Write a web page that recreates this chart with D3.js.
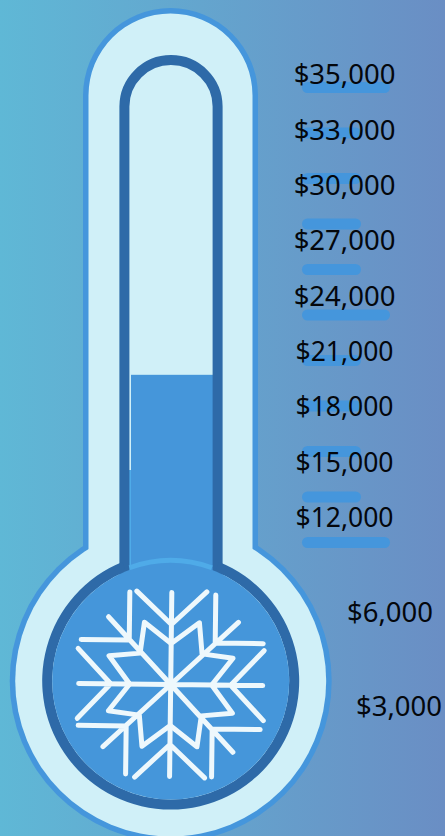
<!DOCTYPE html>
<html>
<head>
<meta charset="utf-8">
<script src="https://cdn.jsdelivr.net/npm/d3@7"></script>
<style>
  html, body { margin: 0; padding: 0; overflow: hidden; }
  svg { display: block; }
</style>
</head>
<body>
<div id="chart"></div>
<script>
// Goal levels, lowest first
const tickValues = [3000, 6000, 12000, 15000, 18000, 21000, 24000, 27000, 30000, 33000, 35000];
const tickLabels = ["$3,000", "$6,000", "$12,000", "$15,000", "$18,000", "$21,000", "$24,000", "$27,000", "$30,000", "$33,000", "$35,000"];
const raisedValue = 19700;
// Gauge marks, top to bottom (long ones are every fifth)
const gaugeMarks = ["long", "short", "short", "short", "short", "long", "short", "short", "short", "short", "long"];

const width = 445, height = 836;
const cx = 170.7, bulbY = 681;

const colors = {
  border: "#4596dc",
  glass: "#d0f0f8",
  dark: "#2e6aa8",
  fill: "#4596da",
  shine: "#4fabe8",
  flake: "#eef8fc"
};

const svg = d3.select("#chart")
  .append("svg")
  .attr("width", width)
  .attr("height", height);

const bg = svg.append("defs").append("linearGradient")
  .attr("id", "bg")
  .attr("x1", 0).attr("x2", 1).attr("y1", 0).attr("y2", 0);
bg.append("stop").attr("offset", 0).attr("stop-color", "#5fb8d6");
bg.append("stop").attr("offset", 1).attr("stop-color", "#6a8ec4");

svg.append("rect")
  .attr("width", width)
  .attr("height", height)
  .attr("fill", "url(#bg)");

// y position of each goal level: the first two labels sit further apart
const yScale = d3.scaleLinear()
  .domain(tickValues)
  .range(tickValues.map((_, i) => i < 2 ? 706 - i * 94.5 : 517 - (i - 2) * 55.4));

const markY = d3.scalePoint()
  .domain(d3.range(gaugeMarks.length))
  .range([82, 537]);

// Gauge marks go under the labels
svg.append("g")
  .selectAll("rect")
  .data(gaugeMarks)
  .join("rect")
  .attr("x", 302)
  .attr("y", (_, i) => markY(i))
  .attr("width", d => d === "long" ? 88 : 59)
  .attr("height", 11)
  .attr("rx", 5.5)
  .attr("fill", colors.border);

// Outer glass: border first, then fill over it so the tube and bulb merge
const tubePath = (x0, x1, top, bottom) => {
  const r = (x1 - x0) / 2;
  return `M${x0},${bottom}V${top + r}A${r},${r} 0 0 1 ${x1},${top + r}V${bottom}`;
};

svg.append("circle")
  .attr("cx", cx).attr("cy", bulbY).attr("r", 161)
  .attr("fill", colors.border);
svg.append("path")
  .attr("d", tubePath(83, 258, 8, 600) + "Z")
  .attr("fill", colors.border);
svg.append("circle")
  .attr("cx", cx).attr("cy", bulbY).attr("r", 155.5)
  .attr("fill", colors.glass);
svg.append("path")
  .attr("d", tubePath(88.5, 252.5, 13.5, 600) + "Z")
  .attr("fill", colors.glass);

// Liquid column, read through the same scale as the labels
svg.append("rect")
  .attr("x", 131)
  .attr("y", yScale(raisedValue))
  .attr("width", 82)
  .attr("height", 580 - yScale(raisedValue))
  .attr("fill", colors.fill);
svg.append("rect")
  .attr("x", 129)
  .attr("y", 470)
  .attr("width", 2)
  .attr("height", 100)
  .attr("fill", colors.shine);

// Inner tube wall
svg.append("path")
  .attr("d", tubePath(124.4, 217.6, 60, 575))
  .attr("fill", "none")
  .attr("stroke", colors.dark)
  .attr("stroke-width", 10);

// Bulb
svg.append("path")
  .attr("transform", `translate(${cx},${bulbY})`)
  .attr("d", d3.arc()
    .innerRadius(118.5)
    .outerRadius(128.5)
    .startAngle(Math.asin(46.5 / 123.5))
    .endAngle(2 * Math.PI - Math.asin(46.5 / 123.5))())
  .attr("fill", colors.dark);
svg.append("circle")
  .attr("cx", cx).attr("cy", bulbY).attr("r", 118.5)
  .attr("fill", colors.fill);
svg.append("path")
  .attr("transform", `translate(${cx},${bulbY})`)
  .attr("d", d3.arc()
    .innerRadius(118)
    .outerRadius(123)
    .startAngle(-Math.asin(41 / 120))
    .endAngle(Math.asin(41 / 120))())
  .attr("fill", colors.shine);

// Snowflake: one quarter drawn four times
const flake = svg.append("g")
  .attr("transform", `translate(${cx},684.5) rotate(0.7)`)
  .attr("fill", "none")
  .attr("stroke", colors.flake)
  .attr("stroke-width", 5)
  .attr("stroke-linecap", "round")
  .attr("stroke-linejoin", "round");

const quarter = [
  "M0,0V-92",
  "M-35,-93L0,-60L35,-93",
  "M0,0L67,-63",
  "M44,-90L44,-42L92,-42",
  "M0,-41L28,-62L31,-31L62,-27L41,0"
].join("");

flake.selectAll("path")
  .data(d3.range(4))
  .join("path")
  .attr("transform", d => `rotate(${d * 90})`)
  .attr("d", quarter);

// Labels ($1x,000 and $21,000 run a little narrower in the reference)
svg.append("g")
  .selectAll("text")
  .data(tickValues)
  .join("text")
  .attr("x", (_, i) => i === 0 ? 399 : i === 1 ? 390 : 344.5)
  .attr("y", d => yScale(d))
  .attr("dy", "0.38em")
  .attr("text-anchor", "middle")
  .attr("font-family", "'Noto Sans', sans-serif")
  .attr("font-size", (_, i) => tickLabels[i].includes("1") ? 26.5 : 27.5)
  .attr("fill", "#04070c")
  .text((_, i) => tickLabels[i]);
</script>
</body>
</html>
